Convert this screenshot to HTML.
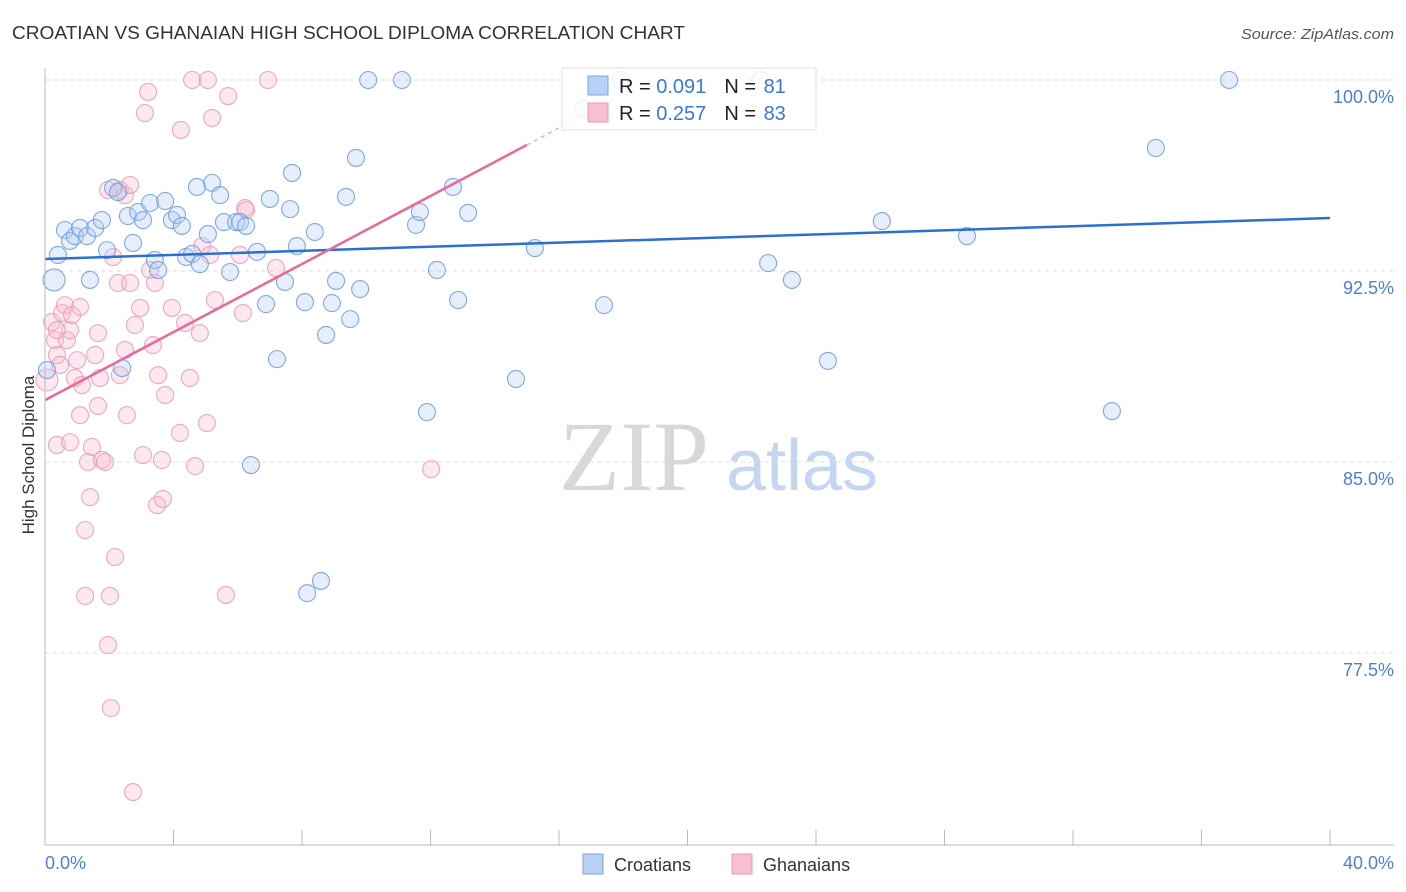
<!DOCTYPE html>
<html><head><meta charset="utf-8"><style>
body{margin:0;background:#fff;font-family:"Liberation Sans",sans-serif;}
svg{display:block}
</style></head><body>
<svg id="chart" width="1406" height="892" xmlns="http://www.w3.org/2000/svg">
<text x="12" y="39" font-size="18" fill="#333" textLength="673" lengthAdjust="spacingAndGlyphs">CROATIAN VS GHANAIAN HIGH SCHOOL DIPLOMA CORRELATION CHART</text>
<text x="1394" y="39" font-size="15" fill="#555" text-anchor="end" font-style="italic" textLength="153" lengthAdjust="spacingAndGlyphs">Source: ZipAtlas.com</text>
<g id="grid"></g>
<g>
<text x="634" y="490" font-size="100" fill="#d8d8d8" text-anchor="middle" font-family="Liberation Serif,serif">ZIP</text>
<text x="802" y="490" font-size="72" fill="#c5d7f0" text-anchor="middle">atlas</text>
</g>
<g id="points"></g>
<g id="lines"></g>
<line x1="45" y1="68" x2="45" y2="845" stroke="#bbb"/>
<line x1="45" y1="845" x2="1394" y2="845" stroke="#bbb"/>
<g id="ticks"></g>
<text transform="translate(34,455) rotate(-90)" font-size="17" fill="#333" text-anchor="middle">High School Diploma</text>
<text x="45" y="869" font-size="18" fill="#4a7fd6">0.0%</text>
<text x="1394" y="869" font-size="18" fill="#4a7fd6" text-anchor="end">40.0%</text>
<g>
<rect x="562" y="68" width="254" height="62" fill="#fff" fill-opacity="0.85" stroke="#ddd"/>
<rect x="588" y="76" width="20" height="19" fill="#b8d0f4" stroke="#7aa5e6"/>
<rect x="588" y="103" width="20" height="19" fill="#f8bfd0" stroke="#ec9ab4"/>
<text x="619" y="93" font-size="20" fill="#222">R = <tspan fill="#3a78d4">0.091</tspan><tspan dx="18">N = </tspan><tspan fill="#3a78d4" dx="2">81</tspan></text>
<text x="619" y="120" font-size="20" fill="#222">R = <tspan fill="#3a78d4">0.257</tspan><tspan dx="18">N = </tspan><tspan fill="#3a78d4" dx="2">83</tspan></text>
</g>
<g>
<rect x="583" y="854" width="20" height="20" fill="#b8d0f4" stroke="#7aa5e6"/>
<text x="614" y="871" font-size="18" fill="#333">Croatians</text>
<rect x="732" y="854" width="20" height="20" fill="#f8bfd0" stroke="#ec9ab4"/>
<text x="763" y="871" font-size="18" fill="#333">Ghanaians</text>
</g>
</svg>
<script>
const yTicks=[100,92.5,85,77.5];
const yTickLabels=["100.0%","92.5%","85.0%","77.5%"];
const xTicks=[0,4,8,12,16,20,24,28,32,36,40];
const blueX=[0.28,0.40,0.62,0.78,0.93,1.09,1.31,1.56,1.77,1.40,1.93,2.12,2.27,2.58,2.74,2.90,3.05,3.27,3.42,3.52,3.74,3.95,4.11,4.26,4.39,4.58,4.73,4.82,5.07,5.20,5.45,5.57,5.76,5.95,6.07,6.26,6.60,6.88,7.00,7.22,7.47,7.63,7.69,7.84,8.09,8.40,8.75,8.93,9.06,9.37,9.50,9.68,9.81,10.06,11.11,11.55,11.67,11.89,12.20,12.70,12.86,13.17,14.66,15.25,17.40,17.93,22.26,22.51,23.25,24.37,26.05,28.70,33.21,34.58,36.86,6.41,8.16,8.59,2.40,16.75,0.06];
const blueY=[92.15,93.13,94.11,93.68,93.87,94.19,93.87,94.19,94.50,92.15,93.32,95.76,95.60,94.66,93.60,94.82,94.50,95.17,92.93,92.54,95.25,94.50,94.70,94.27,93.05,93.17,95.80,92.77,93.95,95.96,95.48,94.42,92.46,94.42,94.42,94.27,93.25,91.20,95.33,89.04,92.07,94.93,96.35,93.48,91.28,94.03,89.99,91.24,92.11,95.41,90.61,96.94,91.79,100,100,94.31,94.82,86.96,92.54,95.80,91.36,94.78,88.26,93.40,91.16,100,100,92.81,92.15,88.97,94.46,93.87,87.00,97.33,100,84.88,79.85,80.33,88.69,98.86,88.61];
const pinkX=[0.06,0.22,0.31,0.37,0.47,0.53,0.62,0.68,0.78,0.84,0.93,1.00,1.09,1.09,1.15,1.25,1.25,1.34,1.40,1.46,1.56,1.65,1.65,1.71,1.77,1.87,1.96,2.02,2.05,2.12,2.18,2.27,2.33,2.33,2.49,2.49,2.55,2.65,2.65,2.74,2.80,2.96,3.05,3.11,3.21,3.27,3.36,3.42,3.49,3.52,3.64,3.67,3.74,3.95,4.20,4.23,4.36,4.51,4.67,4.58,4.82,4.89,5.04,5.07,5.14,5.20,5.29,5.70,5.63,6.07,6.16,6.23,6.26,6.94,7.19,12.02,0.37,0.78,1.96,0.37];
const pinkY=[88.22,90.50,89.79,89.20,88.81,90.85,91.16,89.79,90.18,90.77,88.30,89.00,91.09,86.84,88.02,82.33,79.74,85.00,83.62,85.59,89.20,90.06,87.20,88.30,85.08,85.00,77.81,79.74,75.34,93.05,81.27,92.03,88.41,95.68,89.40,95.48,86.84,92.03,95.88,72.04,90.38,91.05,85.27,98.70,99.53,92.54,89.59,92.03,83.31,88.41,85.08,83.55,87.63,91.05,86.14,98.04,90.46,88.30,84.84,100,90.06,93.48,86.53,100,93.13,98.51,91.36,99.37,79.78,93.13,90.85,94.97,94.89,100,92.62,84.72,85.67,85.78,95.68,90.18];
const blueTrend=[[0,92.97],[40,94.58]];
const pinkTrend=[[0,87.43],[15,97.45]];
const NS="http://www.w3.org/2000/svg";
const xs=v=>45+v/40*1285;
const ys=v=>80+(100-v)/7.5*191;
function mk(tag,attrs,parent){const e=document.createElementNS(NS,tag);for(const k in attrs)e.setAttribute(k,attrs[k]);parent.appendChild(e);return e;}
const grid=document.getElementById('grid'),ticks=document.getElementById('ticks'),pts=document.getElementById('points'),lines=document.getElementById('lines');
yTicks.forEach((t,i)=>{
 const l=mk('line',{x1:45,x2:1394,y1:ys(t),y2:ys(t),stroke:'#ddd','stroke-dasharray':'4,4'},grid);
 
 
 const tx=mk('text',{x:1394,y:ys(t)+23,'font-size':18,fill:'#4a7fd6','text-anchor':'end'},ticks);
 tx.textContent=yTickLabels[i];
 
 
});
xTicks.forEach(t=>{
 const l=mk('line',{x1:xs(t),x2:xs(t),y1:830,y2:845,stroke:'#bbb'},ticks);
 
 
});
function dots(X,Y,fill,stroke,name){
 X.forEach((x,i)=>{
  const c=mk('circle',{cx:xs(x),cy:ys(Y[i]),r:i===0&&x<0.5?11:8.5,fill:fill,'fill-opacity':0.35,stroke:stroke,'stroke-opacity':0.85,'stroke-width':1.1},pts);
  
  
 });
}
dots(pinkX,pinkY,'#f5bccd','#eb9ab5','ghanaian-point');
dots(blueX,blueY,'#b5cdf2','#6a9be0','croatian-point');
let bl=mk('line',{x1:xs(blueTrend[0][0]),y1:ys(blueTrend[0][1]),x2:xs(blueTrend[1][0]),y2:ys(blueTrend[1][1]),stroke:'#2b6fd0','stroke-width':2.5},lines);


let pl=mk('line',{x1:xs(pinkTrend[0][0]),y1:ys(pinkTrend[0][1]),x2:xs(pinkTrend[1][0]),y2:ys(pinkTrend[1][1]),stroke:'#e8699a','stroke-width':2.5},lines);


const slope=(pinkTrend[1][1]-pinkTrend[0][1])/(pinkTrend[1][0]-pinkTrend[0][0]);
const xe=pinkTrend[0][0]+(100-pinkTrend[0][1])/slope;
let pd=mk('line',{x1:xs(pinkTrend[1][0]),y1:ys(pinkTrend[1][1]),x2:xs(xe),y2:ys(100),stroke:'#eeb0c5','stroke-width':1.5,'stroke-dasharray':'4,4'},lines);


</script>
</body></html>
